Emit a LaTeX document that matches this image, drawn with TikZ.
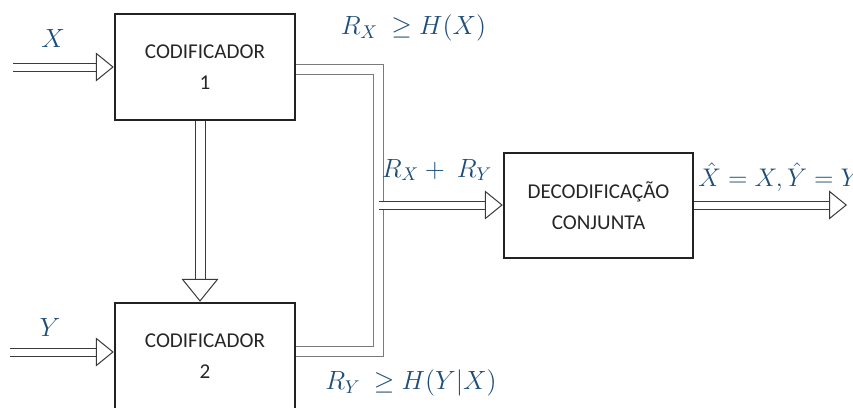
\RequirePackage{fix-cm}
\documentclass[tikz,border=0pt]{standalone}
\usepackage{fontspec}
\setmainfont{Carlito}
\usetikzlibrary{arrows.meta}
\definecolor{mathBlue}{HTML}{1F4E79}
\definecolor{boxLine}{HTML}{222222}
\definecolor{boxText}{HTML}{262626}
\definecolor{pipeLine}{HTML}{7A7A7A}
\definecolor{feedLine}{HTML}{3A3A3A}

\begin{document}
\begin{tikzpicture}[
  block/.style={draw=boxLine, line width=0.05cm, minimum width=3.6cm,
    minimum height=2.12cm, align=center, text=boxText,
    font=\fontsize{12}{18}\selectfont},
  rate/.style={text=mathBlue, inner sep=0pt, font=\fontsize{15}{18}\selectfont},
  pipe/.style={draw=pipeLine, line width=0.02cm, double=white,
    double distance=0.18cm},
  feed/.style={draw=feedLine, line width=0.02cm, double=white,
    double distance=0.14cm,
    -{Triangle[fill=white, line width=0.02cm, length=0.36cm, width=0.58cm]}},
  bigfeed/.style={feed, double distance=0.18cm,
    -{Triangle[fill=white, line width=0.02cm, length=0.46cm, width=0.74cm]}}
]
\useasboundingbox (0,0) rectangle (17.06,-8.14);

% blocks
\node[block] (enc1) at (4.10,-1.34) {CODIFICADOR\\1};
\node[block] (enc2) at (4.10,-7.12) {CODIFICADOR\\2};
\node[block, minimum width=3.78cm, minimum height=2.10cm] (dec) at (11.97,-4.11)
  {DECODIFICAÇÃO\\CONJUNTA};

% free ends
\coordinate (inX) at (0.26,-1.34);
\coordinate (inY) at (0.20,-7.04);
\coordinate (merge) at (7.57,-4.10);
\coordinate (out) at (16.94,-4.10);

% pipe from both encoders
\draw[pipe] (enc1.east |- 0,-1.38) -| (merge) |- (enc2.east |- 0,-7.03);

% arrows
\draw[feed] (inX) -- (inX -| enc1.west);
\draw[feed] (inY) -- (inY -| enc2.west);
\draw[bigfeed] ([xshift=-0.1cm]enc1.south) -- ([xshift=-0.1cm]enc2.north);
\draw[feed] (merge) -- (merge -| dec.west);
\draw[feed] (merge -| dec.east) -- (out);

% labels
\node[rate] (lblX) at (1.06,-0.76) {$X$};
\node[rate] (lblY) at (1.00,-6.54) {$Y$};
\node[rate] (rateX) at (8.27,-0.56) {$R_X\ \geq H(X)$};
\node[rate] (rateY) at (8.22,-7.66) {$R_Y\ \geq H(Y|X)$};
\node[rate] (rateSum) at (8.74,-3.40) {$R_X +\ R_Y$};
\node[rate, anchor=west, font=\fontsize{14.5}{18}\selectfont] (result)
  at (13.96,-3.54) {$\hat{X} = X, \hat{Y} = Y$};

\end{tikzpicture}
\end{document}
